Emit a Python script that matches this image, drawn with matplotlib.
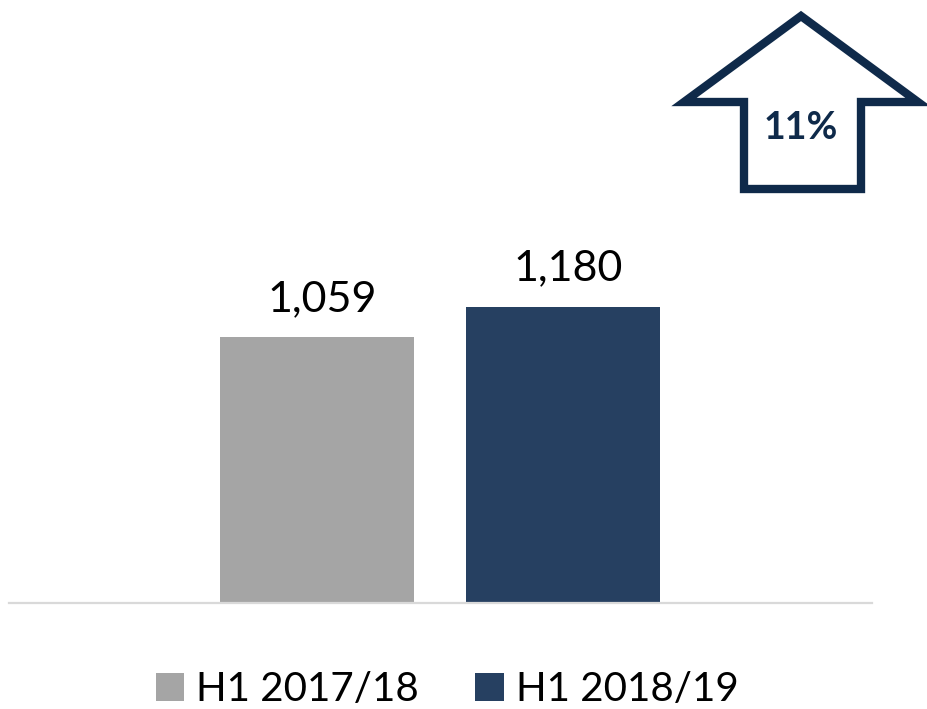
import matplotlib
matplotlib.use("Agg")
import matplotlib.pyplot as plt
from matplotlib.patches import Polygon

categories = ["H1 2017/18", "H1 2018/19"]
values = [1059, 1180]
value_labels = ["1,059", "1,180"]
change_label = "11%"

colors = ["#A5A5A5", "#264061"]
arrow_color = "#0F2A4A"
FONT = ["Lato", "DejaVu Sans"]

W, H = 928, 709
fig = plt.figure(figsize=(W / 100, H / 100), dpi=100)

# main bar axes (pixel layout)
left_px, right_px = 9, 872
base_px, top_px = 603, 200
ax = fig.add_axes([left_px / W, 1 - base_px / H, (right_px - left_px) / W, (base_px - top_px) / H])
x = [0, 1]
bars = ax.bar(x, values, width=0.789, color=colors, label=categories, zorder=2)
ax.set_xlim(-1.252, 2.256)
ax.set_ylim(0, (base_px - top_px) / 0.251)
for s in ["top", "left", "right"]:
    ax.spines[s].set_visible(False)
ax.spines["bottom"].set_color("#D9D9D9")
ax.spines["bottom"].set_linewidth(1.6)
ax.set_xticks([])
ax.set_yticks([])
for xi, v, lab in zip(x, values, value_labels):
    ax.annotate(lab, (xi, v), xytext=(4, 14), textcoords="offset points",
                ha="center", va="bottom", fontsize=31, family=FONT, color="#000000")

# legend
leg = fig.legend(handles=bars.patches, labels=categories, loc="lower center",
                 bbox_to_anchor=(0.482, -0.05), ncol=2, frameon=False,
                 prop={"family": FONT, "size": 29},
                 handlelength=0.7, handleheight=0.7, handletextpad=0.3, columnspacing=1.4)

# overlay for the arrow shape
ov = fig.add_axes([0, 0, 1, 1], zorder=5)
ov.set_xlim(0, W)
ov.set_ylim(H, 0)
ov.axis("off")
ov.patch.set_alpha(0)
pts = [(801, 16), (918, 102), (861, 102), (861, 189), (744, 189), (744, 102), (684, 102)]
ov.add_patch(Polygon(pts, closed=True, fill=False, edgecolor=arrow_color, linewidth=6, joinstyle="miter"))
ov.text(801, 128, change_label, ha="center", va="center", fontsize=27, fontweight="bold",
        family=FONT, color=arrow_color)

fig.savefig("out.png", dpi=100)
